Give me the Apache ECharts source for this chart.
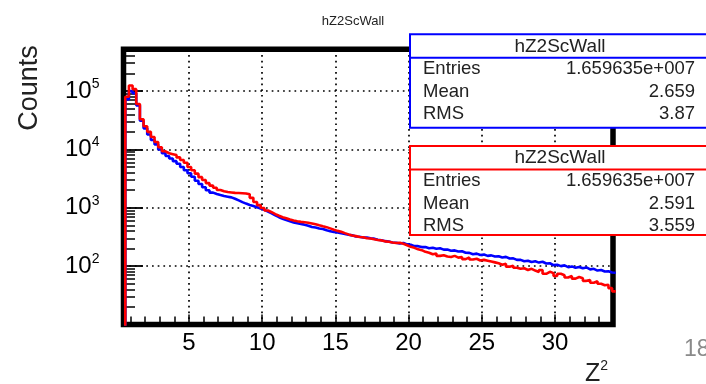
<!DOCTYPE html>
<html><head><meta charset="utf-8">
<script src="https://cdn.jsdelivr.net/npm/echarts@6/dist/echarts.min.js"></script>
<style>html,body{margin:0;padding:0;background:#fff}#c{width:706px;height:384px}</style>
</head><body><div id="c"></div>
<script>
const chartTitle = 'hZ2ScWall';
const xTitle = 'Z';
const yTitle = 'Counts';
// histogram binning (lower edge of first bin, bin width)
const binStart = 0.4;
const binWidth = 0.25;
const redCounts = [
  1, 80000, 125000, 108000, 60000, 33000, 25000, 20000, 16300, 13400,
  10900, 9300, 8600, 8300, 8000, 7300, 6600, 5900, 5000, 4400,
  3850, 3350, 3000, 2650, 2400, 2200, 2020, 1920, 1860, 1830,
  1800, 1790, 1780, 1760, 1700, 1480, 1260, 1110, 990, 900,
  840, 780, 730, 690, 660, 628, 608, 590, 574, 566,
  556, 540, 520, 500, 482, 466, 444, 422, 402, 388,
  368, 350, 336, 327, 316, 312, 300, 298, 288, 280,
  276, 266, 262, 254, 250, 252, 242, 228, 214, 206,
  194, 188, 176, 170, 160, 164, 150, 154, 146, 143,
  150, 140, 144, 132, 141, 130, 134, 125, 128, 124,
  120, 116, 112, 106, 110, 98, 102, 94, 90, 92,
  86, 90, 84, 79, 86, 74, 80, 76, 68, 74,
  70, 64, 68, 61, 65, 62, 56, 58, 52, 55,
  50, 47, 48, 42, 37
];
const blueCounts = [
  1, 72000, 100000, 92000, 57000, 31000, 23000, 18000, 14500, 12200,
  10000, 8600, 7700, 7000, 6300, 5700, 5000, 4400, 3900, 3400,
  2900, 2550, 2250, 2000, 1820, 1720, 1650, 1590, 1550, 1510,
  1430, 1340, 1250, 1180, 1120, 1070, 1020, 970, 920, 860,
  800, 740, 690, 650, 615, 585, 560, 545, 530, 510,
  492, 468, 458, 442, 432, 412, 398, 384, 376, 366,
  356, 344, 337, 323, 318, 310, 310, 300, 296, 284,
  278, 268, 264, 255, 252, 244, 250, 236, 232, 220,
  220, 212, 212, 203, 206, 198, 202, 192, 192, 184,
  186, 178, 180, 170, 169, 160, 164, 155, 158, 150,
  153, 146, 148, 141, 144, 135, 136, 128, 128, 121,
  124, 118, 121, 115, 119, 111, 112, 104, 106, 100,
  103, 96, 99, 94, 97, 92, 95, 88, 90, 84,
  86, 81, 82, 78, 77
];
const xMajorTicks = [5, 10, 15, 20, 25, 30];
const xMinorTicks = [1,2,3,4,6,7,8,9,11,12,13,14,16,17,18,19,21,22,23,24,26,27,28,29,31,32,33];
const yMajorTicks = [100, 1000, 10000, 100000];
const yMinorTicks = [20,30,40,50,60,70,80,90,200,300,400,500,600,700,800,900,
  2000,3000,4000,5000,6000,7000,8000,9000,20000,30000,40000,50000,60000,70000,80000,90000,
  200000,300000,400000,500000];
const statLabels = ['Entries', 'Mean', 'RMS'];
const statBlueValues = ['1.659635e+007', '2.659', '3.87'];
const statRedValues = ['1.659635e+007', '2.591', '3.559'];
const pageNumber = '18';

const FONT = '"Liberation Sans", Arial, Helvetica, sans-serif';
const xMin = 0.53, xMax = 33.96, yMin = 10, yMax = 520000;

function toSteps(counts) {
  const d = counts.map((c, k) => [binStart + binWidth * k, c]);
  d.push([binStart + binWidth * counts.length, counts[counts.length - 1]]);
  return d;
}

function statBox(y0, h, color, values) {
  const x0 = 410, w = 300, Z = 100;
  const rowsY = [y0 + 35, y0 + 58, y0 + 80];
  const children = [
    {type: 'rect', z: Z, shape: {x: x0, y: y0, width: w, height: h}, style: {fill: '#ffffff', stroke: color, lineWidth: 2}},
    {type: 'line', z: Z + 1, shape: {x1: x0, y1: y0 + 23.5, x2: x0 + w, y2: y0 + 23.5}, style: {stroke: color, lineWidth: 2}},
    {type: 'text', z: Z + 1, style: {text: chartTitle, x: 560, y: y0 + 12, fill: '#222', fontSize: 19, fontFamily: FONT, align: 'center', verticalAlign: 'middle'}}
  ];
  statLabels.forEach((lab, i) => {
    children.push({type: 'text', z: Z + 1, style: {text: lab, x: 423, y: rowsY[i], fill: '#222', fontSize: 18.5, fontFamily: FONT, align: 'left', verticalAlign: 'middle'}});
    children.push({type: 'text', z: Z + 1, style: {text: values[i], x: 695, y: rowsY[i], fill: '#222', fontSize: 18.5, fontFamily: FONT, align: 'right', verticalAlign: 'middle'}});
  });
  return {type: 'group', z: Z, children};
}

const chart = echarts.init(document.getElementById('c'), null, {renderer: 'canvas'});
chart.setOption({
  animation: false,
  backgroundColor: '#fff',
  title: {text: chartTitle, left: 'center', top: 10, textStyle: {fontSize: 13, fontWeight: 'normal', color: '#222', fontFamily: FONT}},
  grid: {left: 123.5, top: 49.3, right: 93, bottom: 59.5, show: true, borderColor: '#000', borderWidth: 5.5, backgroundColor: 'transparent', containLabel: false, outerBoundsMode: 'none'},
  xAxis: [
    {type: 'value', min: xMin, max: xMax, position: 'bottom',
      axisLine: {show: false},
      axisTick: {show: true, inside: true, length: 10, customValues: xMajorTicks, lineStyle: {color: '#000', width: 1.5}},
      axisLabel: {show: true, customValues: xMajorTicks, margin: 7, fontSize: 24, color: '#000', fontFamily: FONT, formatter: v => String(v)},
      splitLine: {show: true, lineStyle: {color: '#000', width: 1.7, type: [1.7, 4]}}
    },
    {type: 'value', min: xMin, max: xMax, position: 'bottom',
      axisLine: {show: false},
      axisTick: {show: true, inside: true, length: 8, customValues: xMinorTicks, lineStyle: {color: '#000', width: 1.5}},
      axisLabel: {show: false},
      splitLine: {show: false}
    }
  ],
  yAxis: [
    {type: 'log', logBase: 10, min: yMin, max: yMax, position: 'left',
      axisLine: {show: false},
      axisTick: {show: true, inside: true, length: 19.5, customValues: yMajorTicks, lineStyle: {color: '#000', width: 1.8}},
      axisLabel: {show: true, customValues: yMajorTicks, margin: 24,
        formatter: v => '{b|10}{s|' + Math.round(Math.log10(v)) + '}',
        rich: {b: {fontSize: 24, fontFamily: FONT, color: '#000', lineHeight: 28}, s: {fontSize: 14, fontFamily: FONT, color: '#000', verticalAlign: 'top', lineHeight: 28, padding: [0, 0, 14, 0]}}},
      splitLine: {show: true, lineStyle: {color: '#000', width: 1.7, type: [1.7, 4]}}
    },
    {type: 'log', logBase: 10, min: yMin, max: yMax, position: 'left',
      axisLine: {show: false},
      axisTick: {show: true, inside: true, length: 11.5, customValues: yMinorTicks, lineStyle: {color: '#000', width: 1.5}},
      axisLabel: {show: false},
      splitLine: {show: false}
    }
  ],
  series: [
    {name: 'blue', type: 'line', step: 'end', xAxisIndex: 0, yAxisIndex: 0, data: toSteps(blueCounts), symbol: 'none', clip: true,
      lineStyle: {color: '#0000ff', width: 2.6}, z: 3},
    {name: 'red', type: 'line', step: 'end', xAxisIndex: 0, yAxisIndex: 0, data: toSteps(redCounts), symbol: 'none', clip: true,
      lineStyle: {color: '#ff0000', width: 2.6}, z: 4}
  ],
  graphic: [
    {type: 'text', z: 100, rotation: Math.PI / 2, x: 30, y: 88, style: {text: yTitle, fill: '#222', fontSize: 27, fontFamily: FONT, align: 'center', verticalAlign: 'middle'}},
    {type: 'text', z: 100, x: 585, y: 389, style: {text: '{z|' + xTitle + '}{p|2}', fill: '#222', fontFamily: FONT, align: 'left', verticalAlign: 'bottom',
      rich: {z: {fontSize: 25, fontFamily: FONT, fill: '#222', lineHeight: 30}, p: {fontSize: 14, fontFamily: FONT, fill: '#222', verticalAlign: 'top', lineHeight: 30}}}},
    {type: 'text', z: 100, x: 684, y: 350, style: {text: pageNumber, fill: '#8a8a8a', fontSize: 23, fontFamily: FONT, align: 'left', verticalAlign: 'middle'}},
    statBox(34.3, 93.4, '#0000ff', statBlueValues),
    statBox(146, 89, '#ff0000', statRedValues)
  ]
});
</script>
</body></html>
